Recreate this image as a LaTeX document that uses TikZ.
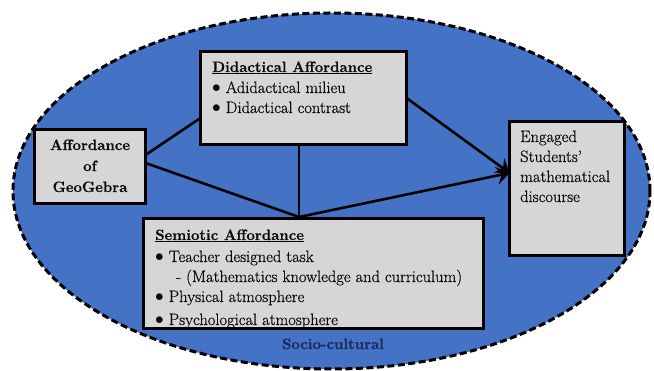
\documentclass[tikz,border=0pt]{standalone}
\usepackage{fontspec}
\newfontfamily\lmdark{Latin Modern Roman}[FakeBold=0.6]
\newcommand{\blt}{$\bullet$\ }
\usetikzlibrary{shapes.geometric,arrows.meta}
\definecolor{fieldblue}{RGB}{68,114,196}
\definecolor{boxgray}{RGB}{214,214,214}
\definecolor{navy}{RGB}{28,40,88}
\definecolor{ink}{RGB}{10,10,10}
\begin{document}
\begin{tikzpicture}[x=1pt,y=1pt,
  box/.style={draw=black,fill=boxgray,line width=2.6pt,inner sep=0pt,outer sep=0pt,rectangle},
  txt/.style={anchor=base west,inner sep=0pt,text=ink,font=\lmdark\fontsize{16.5}{20}\selectfont},
  ttl/.style={anchor=base west,inner sep=0pt,text=ink,font=\lmdark\fontsize{15}{20}\selectfont\bfseries},
  ctxt/.style={anchor=base,inner sep=0pt,text=ink,font=\lmdark\fontsize{15}{20}\selectfont\bfseries},
  link/.style={line width=2.6pt,draw=black},
  arr/.style={link,-{Stealth[length=13pt,width=18pt,inset=5pt]}}]
\fill[white] (0,0) rectangle (654,371);
\useasboundingbox (0,0) rectangle (654,371);
\node[ellipse,draw=black,fill=fieldblue,line width=3pt,dash pattern=on 7pt off 3.5pt,
      minimum width=637pt,minimum height=356pt,inner sep=0pt] (field) at (331.5,180) {};
% boxes
\node[box,minimum width=206pt,minimum height=93pt] (did) at (303.5,273) {};
\node[box,minimum width=111pt,minimum height=74pt] (geo) at (90,204.5) {};
\node[box,minimum width=340pt,minimum height=110pt] (sem) at (313.5,97.5) {};
\node[box,minimum width=115pt,minimum height=134pt] (eng) at (567,182.5) {};
\coordinate (j) at (299,154);
% connectors
\draw[link] ([yshift=11.5pt]geo.east) -- ([yshift=-20pt]did.west);
\draw[link] ([yshift=3.5pt]geo.east) -- (j);
\draw[link] (j |- did.south) -- (j);
\draw[arr] (did.east) -- ([yshift=15.5pt]eng.west);
\draw[arr] (j) -- ([yshift=15.5pt]eng.west);
% didactical text
\node[ttl] (d1) at (212,299) {\underline{Didactical Affordance}};
\node[txt] (d2) at (212,278) {\blt Adidactical milieu};
\node[txt] (d3) at (212,258) {\blt Didactical contrast};
% geogebra text
\node[ctxt] (g1) at (90,221) {Affordance};
\node[ctxt] (g2) at (90,200) {of};
\node[ctxt] (g3) at (90,179) {GeoGebra};
% semiotic text
\node[ttl] (s1) at (155,131) {\underline{Semiotic Affordance}};
\node[txt] (s2) at (155,109) {\blt Teacher designed task};
\node[txt] (s3) at (176,89) {- (Mathematics knowledge and curriculum)};
\node[txt] (s4) at (155,69) {\blt Physical atmosphere};
\node[txt] (s5) at (155,46) {\blt Psychological atmosphere};
\draw[line width=2.6pt] (sem.south west) rectangle (sem.north east);
% engaged text
\node[txt] (e1) at (520,229) {Engaged};
\node[txt] (e2) at (520,209) {Students’};
\node[txt] (e3) at (520,189) {mathematical};
\node[txt] (e4) at (520,169) {discourse};
% socio-cultural
\node[anchor=base,inner sep=0pt,text=navy,font=\lmdark\fontsize{15}{20}\selectfont\bfseries] (soc) at (333,22) {Socio-cultural};
\end{tikzpicture}
\end{document}
